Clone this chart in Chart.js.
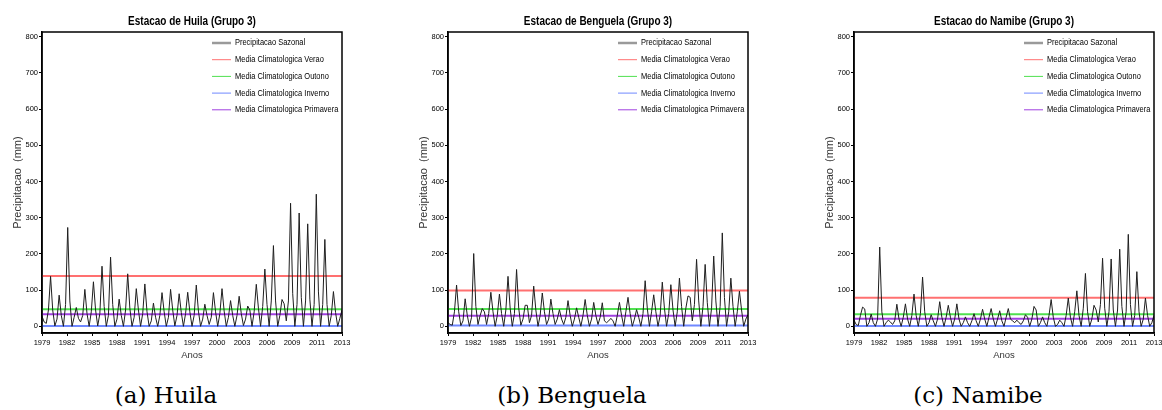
<!DOCTYPE html>
<html>
<head>
<meta charset="utf-8">
<script src="https://cdn.jsdelivr.net/npm/chart.js@4.4.0/dist/chart.umd.min.js"></script>
<style>
  body { margin: 0; width: 1162px; height: 410px; overflow: hidden; background: #fff; position: relative; }
  .painel { position: absolute; top: 0; width: 390px; height: 365px; }
  .legenda { position: absolute; top: 384px; font-family: 'DejaVu Serif', serif; font-size: 23px; line-height: 23px; transform: translateX(-50%); white-space: nowrap; color: #000; }
</style>
</head>
<body>
<div class="painel" style="left:0px"><canvas id="huila" width="390" height="365"></canvas></div>
<div class="painel" style="left:406px"><canvas id="benguela" width="390" height="365"></canvas></div>
<div class="painel" style="left:812px"><canvas id="namibe" width="390" height="365"></canvas></div>
<div class="legenda" style="left:166px">(a) Huila</div>
<div class="legenda" style="left:572px">(b) Benguela</div>
<div class="legenda" style="left:978px">(c) Namibe</div>
<script>
// rotulos do eixo x (espacados igualmente, como no grafico original)
const anos = ['1979', '1982', '1985', '1988', '1991', '1994', '1997', '2000', '2003', '2006', '2009', '2011', '2013'];
const yTicks = [0, 100, 200, 300, 400, 500, 600, 700, 800];

const nomes = ['Precipitacao Sazonal', 'Media Climatologica Verao', 'Media Climatologica Outono',
               'Media Climatologica Inverno', 'Media Climatologica Primavera'];

// precipitacao sazonal (mm): verao, outono, inverno, primavera por ano
const huila = [
  28, 12, 8, 45,    138, 45, 1, 20,   86, 30, 0, 60,    273, 70, 0, 25,
  52, 22, 12, 30,   102, 35, 0, 40,   123, 45, 1, 35,   166, 55, 0, 30,
  191, 60, 0, 20,   75, 30, 0, 45,    145, 50, 0, 25,   104, 45, 0, 35,
  117, 40, 0, 15,   64, 25, 0, 30,    93, 40, 0, 25,    102, 45, 1, 30,
  90, 38, 0, 35,    94, 40, 0, 30,    114, 42, 0, 20,   61, 30, 5, 25,
  93, 40, 0, 35,    104, 42, 0, 25,   71, 30, 0, 30,    83, 35, 2, 20,
  56, 45, 0, 40,    116, 50, 0, 55,   158, 60, 0, 70,   223, 70, 0, 30,
  74, 62, 15, 70,   340, 90, 0, 60,   313, 80, 0, 70,   283, 75, 0, 60,
  365, 95, 0, 60,   240, 60, 0, 30,   96, 38, 0, 22,    45
];
const benguela = [
  10, 5, 3, 40,     114, 40, 2, 15,   76, 30, 0, 25,    201, 55, 5, 30,
  49, 40, 5, 35,    94, 40, 0, 30,    89, 35, 0, 45,    138, 50, 0, 35,
  157, 50, 3, 20,   58, 58, 10, 30,   111, 45, 0, 30,   92, 40, 5, 20,
  75, 35, 5, 20,    46, 20, 5, 25,    71, 30, 0, 20,    51, 25, 0, 30,
  74, 30, 0, 20,    66, 30, 5, 25,    65, 15, 10, 15,   22, 15, 0, 30,
  66, 30, 0, 40,    80, 35, 0, 20,    46, 25, 0, 35,    126, 50, 0, 40,
  87, 40, 0, 30,    122, 50, 0, 35,   115, 45, 0, 40,   133, 55, 0, 50,
  84, 80, 15, 60,   185, 70, 0, 55,   171, 65, 0, 50,   194, 70, 0, 55,
  258, 80, 0, 40,   133, 55, 0, 40,   97, 45, 0, 20,    32
];
const namibe = [
  17, 5, 2, 30,     53, 48, 0, 10,    34, 10, 0, 20,    219, 40, 0, 10,
  17, 12, 5, 15,    61, 20, 0, 25,    62, 20, 0, 30,    89, 30, 0, 35,
  136, 40, 0, 10,   32, 15, 0, 20,    68, 25, 0, 25,    58, 25, 0, 20,
  62, 20, 0, 10,    26, 10, 0, 15,    35, 15, 0, 20,    47, 20, 0, 25,
  49, 20, 0, 20,    43, 15, 0, 25,    49, 20, 15, 10,   17, 10, 5, 15,
  32, 25, 0, 20,    55, 45, 0, 10,    26, 10, 0, 30,    74, 25, 0, 5,
  17, 10, 0, 30,    78, 25, 0, 40,    98, 30, 0, 50,    146, 40, 0, 20,
  58, 45, 12, 60,   188, 50, 0, 40,   186, 45, 0, 45,   213, 55, 0, 40,
  254, 60, 0, 30,   151, 40, 0, 20,   78, 30, 0, 10,    30
];

// medias climatologicas: verao, outono, inverno, primavera
const mediasHuila = [139, 47, 1, 33];
const mediasBenguela = [99, 48, 2, 29];
const mediasNamibe = [79, 33, 1, 21];

const coresMedias = ['#ff7070', '#50e050', '#7088ff', '#a040e0'];
const fonte = "'Liberation Sans', Arial, sans-serif";

// texto estreito (a fonte do GrADS e condensada)
function textoEstreito(ctx, txt, x, y, escala) {
  ctx.save();
  ctx.translate(x, y);
  ctx.scale(escala, 1);
  ctx.fillText(txt, 0, 0);
  ctx.restore();
}

// moldura, titulo e legenda dentro da area do grafico
const moldura = {
  id: 'moldura',
  afterDraw(chart) {
    const {ctx, chartArea: a} = chart;
    ctx.save();
    ctx.strokeStyle = '#000';
    ctx.lineWidth = 1.5;
    ctx.strokeRect(a.left, a.top, a.right - a.left, a.bottom - a.top);
    ctx.fillStyle = '#000';
    ctx.font = 'bold 12.5px ' + fonte;
    ctx.textAlign = 'center';
    ctx.textBaseline = 'middle';
    textoEstreito(ctx, chart.options.plugins.titulo, (a.left + a.right) / 2, 22, 0.8);
    ctx.font = '9px ' + fonte;
    ctx.textAlign = 'left';
    const cores = ['#9a9a9a'].concat(coresMedias);
    nomes.forEach((n, i) => {
      const y = a.top + 11 + i * 16.7;
      ctx.strokeStyle = cores[i];
      ctx.lineWidth = i === 0 ? 2.5 : 1;
      ctx.beginPath();
      ctx.moveTo(a.right - 130, y);
      ctx.lineTo(a.right - 111, y);
      ctx.stroke();
      textoEstreito(ctx, n, a.right - 107, y, 0.83);
    });
    ctx.restore();
  }
};

function criarGrafico(id, titulo, serie, medias) {
  const xMax = serie.length - 1;
  const datasets = [{
    label: nomes[0],
    data: serie.map((v, i) => ({x: i, y: v})),
    borderColor: '#1e1e1e',
    borderWidth: 1,
    pointRadius: 0,
    tension: 0
  }];
  medias.forEach((m, j) => {
    datasets.push({
      label: nomes[j + 1],
      data: [{x: 0, y: m}, {x: xMax, y: m}],
      borderColor: coresMedias[j],
      borderWidth: 2,
      pointRadius: 0
    });
  });
  return new Chart(document.getElementById(id), {
    type: 'line',
    data: {datasets: datasets},
    options: {
      responsive: false,
      animation: false,
      layout: {padding: {top: 32, left: 8, right: 48, bottom: 2}},
      plugins: {legend: {display: false}, tooltip: {enabled: false}, titulo: titulo},
      scales: {
        x: {
          type: 'linear', min: 0, max: xMax,
          afterFit: s => { s.height = 30; },
          afterBuildTicks: s => { s.ticks = anos.map((a, i) => ({value: i * xMax / (anos.length - 1)})); },
          ticks: {autoSkip: false, maxRotation: 0, padding: 2, color: '#000', font: {family: fonte, size: 7.5},
                  callback: (v, i) => anos[i]},
          grid: {drawOnChartArea: false, tickLength: 3, color: '#000'},
          border: {color: '#000', width: 1.5},
          title: {display: true, text: 'Anos', color: '#333', font: {family: fonte, size: 9.5}, padding: {top: 0, bottom: 2}}
        },
        y: {
          min: -18.5, max: 813,
          afterFit: s => { s.width = 34; },
          afterBuildTicks: s => { s.ticks = yTicks.map(v => ({value: v})); },
          ticks: {padding: 1, color: '#000', font: {family: fonte, size: 7.5}},
          grid: {drawOnChartArea: false, tickLength: 3, color: '#000'},
          border: {color: '#000', width: 1.5},
          title: {display: true, text: 'Precipitacao  (mm)', color: '#333', font: {family: fonte, size: 11}, padding: {top: 3, bottom: 0}}
        }
      }
    },
    plugins: [moldura]
  });
}

criarGrafico('huila', 'Estacao de Huila (Grupo 3)', huila, mediasHuila);
criarGrafico('benguela', 'Estacao de Benguela (Grupo 3)', benguela, mediasBenguela);
criarGrafico('namibe', 'Estacao do Namibe (Grupo 3)', namibe, mediasNamibe);
</script>
</body>
</html>
